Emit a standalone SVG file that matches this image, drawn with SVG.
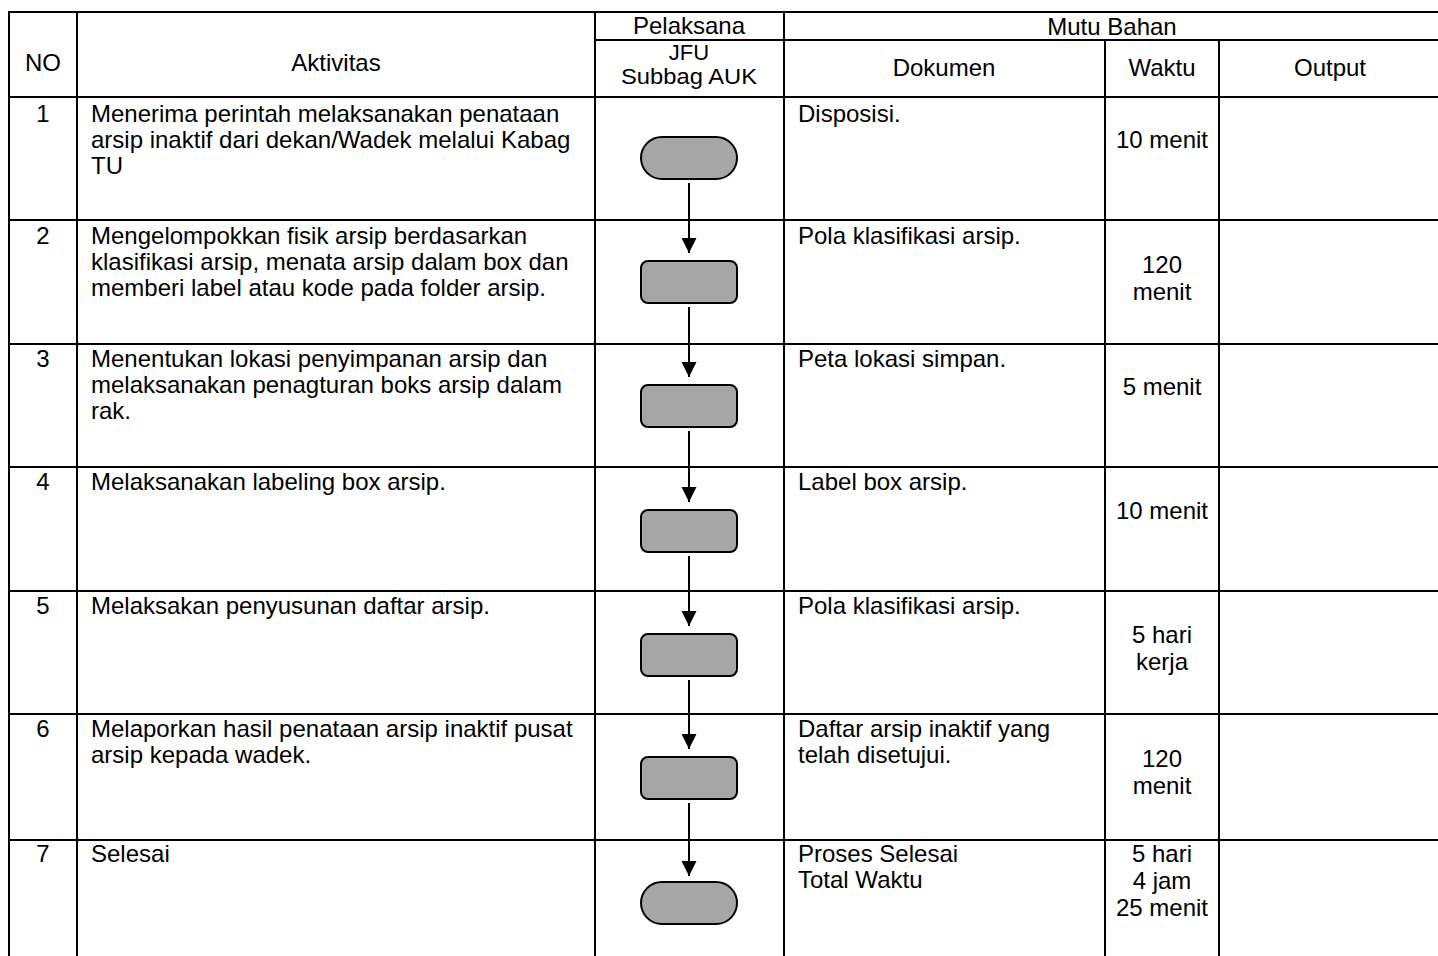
<svg xmlns="http://www.w3.org/2000/svg" width="1438" height="956" viewBox="0 0 1438 956">
<style>
text{font-family:"Liberation Sans",Arial,sans-serif;font-size:24px;fill:#000}
.c{text-anchor:middle}
.h2{font-size:22px}
.grid line{stroke:#000;stroke-width:2}
.term,.proc{fill:#a6a6a6;stroke:#000;stroke-width:2}
.conn line{stroke:#000;stroke-width:2}
</style>
<defs>
<marker id="ah" markerWidth="16" markerHeight="16" refX="15" refY="7.5" orient="auto" markerUnits="userSpaceOnUse">
<path d="M0,0 L15,7.5 L0,15 Z" fill="#000"/>
</marker>
</defs>
<rect width="1438" height="956" fill="#fff"/>
<g class="grid">
<line x1="8" y1="12" x2="1438" y2="12"/>
<line x1="595" y1="40" x2="1438" y2="40"/>
<line x1="8" y1="97" x2="1438" y2="97"/>
<line x1="8" y1="220" x2="1438" y2="220"/>
<line x1="8" y1="344" x2="1438" y2="344"/>
<line x1="8" y1="467" x2="1438" y2="467"/>
<line x1="8" y1="591" x2="1438" y2="591"/>
<line x1="8" y1="714" x2="1438" y2="714"/>
<line x1="8" y1="840" x2="1438" y2="840"/>
<line x1="9" y1="11" x2="9" y2="956"/>
<line x1="77" y1="11" x2="77" y2="956"/>
<line x1="595" y1="11" x2="595" y2="956"/>
<line x1="784" y1="11" x2="784" y2="956"/>
<line x1="1105" y1="40" x2="1105" y2="956"/>
<line x1="1219" y1="40" x2="1219" y2="956"/>
</g>
<g id="header">
<text class="c" x="43" y="71">NO</text>
<text class="c" x="336" y="71">Aktivitas</text>
<text class="c" x="689" y="34">Pelaksana</text>
<text class="c h2" x="689" y="59.5">JFU</text>
<text class="c h2" x="689" y="84" textLength="136" lengthAdjust="spacingAndGlyphs">Subbag AUK</text>
<text class="c" x="1112" y="35">Mutu Bahan</text>
<text class="c" x="944" y="76">Dokumen</text>
<text class="c" x="1162" y="76">Waktu</text>
<text class="c" x="1330" y="76">Output</text>
</g>
<g id="texts">
<text class="c" x="43" y="121.5">1</text>
<text x="91" y="121.5">Menerima perintah melaksanakan penataan</text>
<text x="91" y="147.5">arsip inaktif dari dekan/Wadek melalui Kabag</text>
<text x="91" y="173.5">TU</text>
<text x="798" y="121.5">Disposisi.</text>
<text class="c" x="1162" y="148">10 menit</text>

<text class="c" x="43" y="243.5">2</text>
<text x="91" y="243.5">Mengelompokkan fisik arsip berdasarkan</text>
<text x="91" y="269.5">klasifikasi arsip, menata arsip dalam box dan</text>
<text x="91" y="295.5">memberi label atau kode pada folder arsip.</text>
<text x="798" y="243.5">Pola klasifikasi arsip.</text>
<text class="c" x="1162" y="273">120</text>
<text class="c" x="1162" y="300">menit</text>

<text class="c" x="43" y="366.5">3</text>
<text x="91" y="366.5">Menentukan lokasi penyimpanan arsip dan</text>
<text x="91" y="392.5">melaksanakan penagturan boks arsip dalam</text>
<text x="91" y="418.5">rak.</text>
<text x="798" y="366.5">Peta lokasi simpan.</text>
<text class="c" x="1162" y="395">5 menit</text>

<text class="c" x="43" y="490">4</text>
<text x="91" y="490">Melaksanakan labeling box arsip.</text>
<text x="798" y="490">Label box arsip.</text>
<text class="c" x="1162" y="519">10 menit</text>

<text class="c" x="43" y="614">5</text>
<text x="91" y="614">Melaksakan penyusunan daftar arsip.</text>
<text x="798" y="614">Pola klasifikasi arsip.</text>
<text class="c" x="1162" y="643">5 hari</text>
<text class="c" x="1162" y="670">kerja</text>

<text class="c" x="43" y="737">6</text>
<text x="91" y="737">Melaporkan hasil penataan arsip inaktif pusat</text>
<text x="91" y="763">arsip kepada wadek.</text>
<text x="798" y="737">Daftar arsip inaktif yang</text>
<text x="798" y="763">telah disetujui.</text>
<text class="c" x="1162" y="767">120</text>
<text class="c" x="1162" y="794">menit</text>

<text class="c" x="43" y="862">7</text>
<text x="91" y="862">Selesai</text>
<text x="798" y="862">Proses Selesai</text>
<text x="798" y="888">Total Waktu</text>
<text class="c" x="1162" y="862">5 hari</text>
<text class="c" x="1162" y="889">4 jam</text>
<text class="c" x="1162" y="916">25 menit</text>
</g>
<g id="n1"><rect class="term" x="641" y="137" width="96" height="42" rx="21"/></g>
<g id="n2"><rect class="proc" x="641" y="261" width="96" height="42" rx="7"/></g>
<g id="n3"><rect class="proc" x="641" y="385" width="96" height="42" rx="7"/></g>
<g id="n4"><rect class="proc" x="641" y="510" width="96" height="42" rx="7"/></g>
<g id="n5"><rect class="proc" x="641" y="634" width="96" height="42" rx="7"/></g>
<g id="n6"><rect class="proc" x="641" y="757" width="96" height="42" rx="7"/></g>
<g id="n7"><rect class="term" x="641" y="882" width="96" height="42" rx="21"/></g>
<g class="conn">
<line x1="689" y1="183" x2="689" y2="253" marker-end="url(#ah)"/>
<line x1="689" y1="307" x2="689" y2="377" marker-end="url(#ah)"/>
<line x1="689" y1="431" x2="689" y2="502" marker-end="url(#ah)"/>
<line x1="689" y1="556" x2="689" y2="626" marker-end="url(#ah)"/>
<line x1="689" y1="680" x2="689" y2="749" marker-end="url(#ah)"/>
<line x1="689" y1="803" x2="689" y2="876" marker-end="url(#ah)"/>
</g>
</svg>
